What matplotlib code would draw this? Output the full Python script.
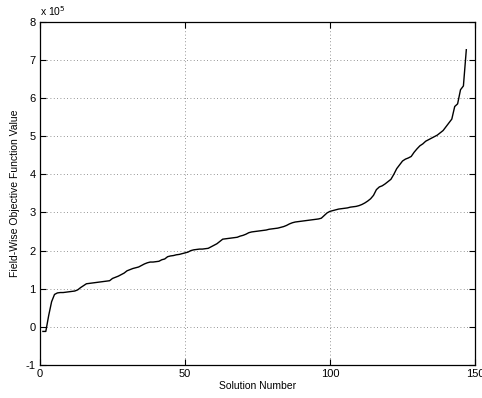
import matplotlib
matplotlib.use("Agg")
import matplotlib.pyplot as plt
from matplotlib.ticker import FuncFormatter

plt.rcParams['font.family'] = ['Liberation Sans', 'DejaVu Sans']

# Sorted field-wise objective values (in thousands), one per solution
solution_number = list(range(1, 148))
objective_k = [
    -12, -12, 30, 66, 85, 89, 90, 90, 91, 92,
    93, 94, 97, 103, 108, 113, 114, 115, 116, 117,
    118, 119, 120, 121, 127, 130, 133, 137, 141, 147,
    150, 153, 155, 157, 161, 165, 168, 170, 170, 171,
    172, 176, 178, 184, 186, 187, 189, 190, 192, 194,
    196, 200, 202, 203, 204, 204, 205, 206, 210, 214,
    218, 224, 230, 231, 232, 233, 234, 235, 238, 240,
    243, 247, 249, 250, 251, 252, 253, 254, 256, 257,
    258, 259, 261, 263, 266, 270, 273, 275, 276, 277,
    278, 279, 280, 281, 282, 283, 285, 292, 299, 303,
    305, 307, 309, 310, 311, 312, 314, 315, 316, 318,
    321, 325, 330, 336, 345, 360, 367, 370, 375, 381,
    387, 400, 415, 425, 435, 440, 443, 447, 458, 467,
    475, 480, 487, 491, 495, 499, 503, 509, 515, 525,
    535, 545, 578, 585, 622, 632, 727,
]
objective = [v * 1000 for v in objective_k]

x_ticks = [0, 50, 100, 150]
y_ticks = [i * 1e5 for i in range(-1, 9)]

fig = plt.figure(figsize=(4.82, 3.98), dpi=100)
ax = fig.add_axes([0.083, 0.083, 0.9025, 0.862])

ax.plot(solution_number, objective, color='black', linewidth=1.0)

ax.set_xlim(0, 150)
ax.set_ylim(-1e5, 8e5)
ax.set_xticks(x_ticks)
ax.set_yticks(y_ticks)
ax.yaxis.set_major_formatter(FuncFormatter(lambda v, p: f"{v / 1e5:g}"))

ax.grid(True, linestyle=(0, (1, 3)), color='0.45', linewidth=0.6)
ax.tick_params(direction='in', top=True, right=True, labelsize=8, length=4, width=0.8, pad=3)
for s in ax.spines.values():
    s.set_linewidth(0.9)

ax.set_xlabel('Solution Number', fontsize=7.5, labelpad=1)
ax.set_ylabel('Field-Wise Objective Function Value', fontsize=7.5, labelpad=4)
ax.text(0.0, 1.012, r'x 10$^5$', transform=ax.transAxes, fontsize=7.5, ha='left', va='bottom')

fig.savefig('out.png', dpi=100)
